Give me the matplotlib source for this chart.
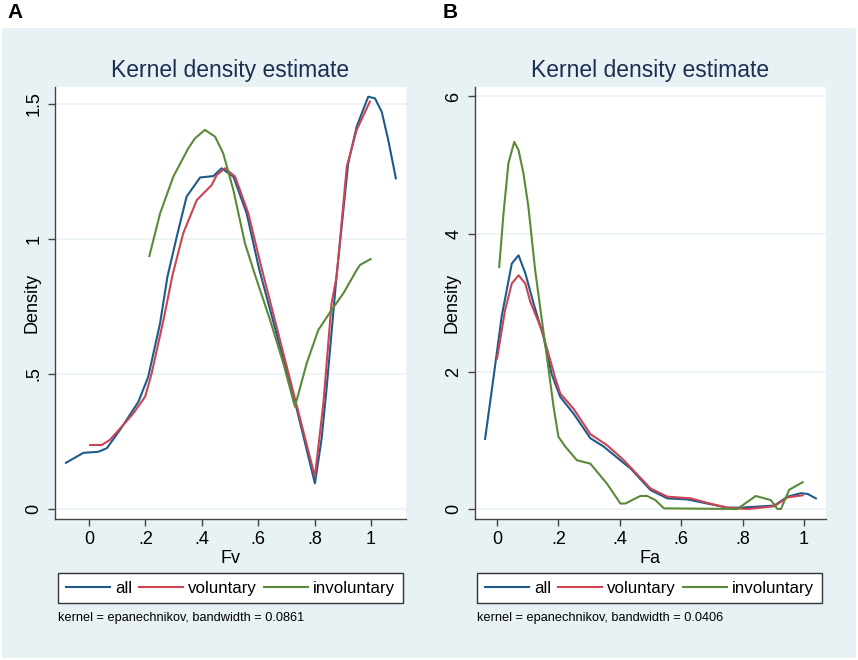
import matplotlib
matplotlib.use("Agg")
import matplotlib.pyplot as plt
from matplotlib.patches import Rectangle

plt.rcParams['font.family'] = ['Liberation Sans', 'DejaVu Sans']

# ---------------- Panel A (Fv) ----------------
a_all_x = [-0.082, -0.02, 0.033, 0.063, 0.11, 0.175, 0.21, 0.252, 0.278, 0.311, 0.346, 0.394,
           0.441, 0.47, 0.512, 0.559, 0.603, 0.736, 0.801, 0.825, 0.843, 0.878, 0.919, 0.949,
           0.99, 1.014, 1.038, 1.061, 1.088]
a_all_y = [0.171, 0.208, 0.212, 0.225, 0.293, 0.397, 0.49, 0.688, 0.86, 1.008, 1.157, 1.228,
           1.233, 1.262, 1.231, 1.095, 0.89, 0.373, 0.095, 0.262, 0.453, 0.866, 1.28, 1.416,
           1.527, 1.521, 1.471, 1.367, 1.225]

a_vol_x = [0.004, 0.045, 0.074, 0.116, 0.157, 0.199, 0.222, 0.264, 0.296, 0.334, 0.382, 0.417,
           0.435, 0.453, 0.482, 0.518, 0.565, 0.61, 0.801, 0.831, 0.86, 0.878, 0.914, 0.949, 0.996]
a_vol_y = [0.237, 0.237, 0.256, 0.305, 0.354, 0.416, 0.502, 0.7, 0.866, 1.021, 1.144, 1.181,
           1.2, 1.237, 1.262, 1.231, 1.095, 0.9, 0.12, 0.391, 0.762, 0.86, 1.268, 1.404, 1.509]

a_inv_x = [0.214, 0.252, 0.299, 0.352, 0.376, 0.411, 0.447, 0.476, 0.512, 0.553, 0.589, 0.642,
           0.689, 0.73, 0.772, 0.813, 0.86, 0.902, 0.949, 0.961, 0.999]
a_inv_y = [0.937, 1.095, 1.231, 1.336, 1.373, 1.404, 1.379, 1.317, 1.181, 0.984, 0.866, 0.7,
           0.54, 0.379, 0.54, 0.663, 0.737, 0.799, 0.885, 0.904, 0.926]

# ---------------- Panel B (Fa) ----------------
b_all_x = [-0.039, -0.012, 0.015, 0.048, 0.07, 0.092, 0.119, 0.151, 0.178, 0.206, 0.249, 0.304,
           0.347, 0.407, 0.435, 0.5, 0.555, 0.62, 0.685, 0.75, 0.794, 0.903, 0.947, 0.99, 1.012, 1.039]
b_all_y = [1.02, 1.9, 2.8, 3.57, 3.69, 3.43, 2.99, 2.51, 1.96, 1.63, 1.39, 1.03,
           0.91, 0.69, 0.59, 0.276, 0.155, 0.14, 0.08, 0.02, 0.02, 0.05, 0.18, 0.23, 0.22, 0.155]

b_vol_x = [0.0, 0.026, 0.048, 0.07, 0.092, 0.108, 0.146, 0.19, 0.206, 0.249, 0.304, 0.358,
           0.413, 0.5, 0.555, 0.631, 0.685, 0.75, 0.816, 0.903, 0.947, 0.996]
b_vol_y = [2.19, 2.89, 3.28, 3.40, 3.28, 3.02, 2.6, 1.9, 1.68, 1.46, 1.09, 0.93,
           0.71, 0.30, 0.18, 0.155, 0.09, 0.02, 0.0, 0.04, 0.17, 0.2]

b_inv_x = [0.007, 0.021, 0.037, 0.056, 0.07, 0.086, 0.102, 0.124, 0.146, 0.168, 0.184, 0.2,
           0.222, 0.26, 0.304, 0.358, 0.402, 0.418, 0.467, 0.489, 0.516, 0.544, 0.783, 0.843,
           0.892, 0.914, 0.925, 0.952, 0.996]
b_inv_y = [3.52, 4.3, 5.03, 5.34, 5.22, 4.88, 4.4, 3.48, 2.75, 2.03, 1.49, 1.05,
           0.91, 0.71, 0.66, 0.37, 0.08, 0.08, 0.19, 0.19, 0.13, 0.01, 0.0, 0.19,
           0.13, 0.0, 0.0, 0.28, 0.39]

series_names = ["all", "voluntary", "involuntary"]
a_xticks = [0, 0.2, 0.4, 0.6, 0.8, 1.0]
a_xticklabels = ["0", ".2", ".4", ".6", ".8", "1"]
a_yticks = [0, 0.5, 1.0, 1.5]
a_yticklabels = ["0", ".5", "1", "1.5"]
b_xticks = [0, 0.2, 0.4, 0.6, 0.8, 1.0]
b_xticklabels = ["0", ".2", ".4", ".6", ".8", "1"]
b_yticks = [0, 2, 4, 6]
b_yticklabels = ["0", "2", "4", "6"]

COLORS = ["#1f5b8a", "#cc4453", "#5a8a38"]
BG = "#e8f1f3"
GRID = "#eaf2f3"
TITLE_C = "#1b2f52"
W, H = 858, 660

fig = plt.figure(figsize=(8.58, 6.6), dpi=100)
fig.patch.set_facecolor("white")

# panel backgrounds
fig.patches.append(Rectangle((2 / W, 2 / H), 427 / W, 630 / H, transform=fig.transFigure,
                             facecolor=BG, edgecolor="none", zorder=-10))
fig.patches.append(Rectangle((429 / W, 2 / H), 427 / W, 630 / H, transform=fig.transFigure,
                             facecolor=BG, edgecolor="none", zorder=-10))


def panel(left_px, xs, ys, xlim, ylim, xticks, xtl, yticks, ytl, xlabel, note, legend_cx,
          note_x, letter, letter_x):
    ax = fig.add_axes([left_px / W, 1 - 519 / H, 351 / W, 432 / H])
    ax.set_facecolor("white")
    for i, (x, y) in enumerate(zip(xs, ys)):
        ax.plot(x, y, color=COLORS[i], lw=1.5, label=series_names[i], zorder=3)
    ax.set_xlim(*xlim)
    ax.set_ylim(*ylim)
    ax.set_xticks(xticks)
    ax.set_xticklabels(xtl, fontsize=13)
    ax.set_yticks(yticks)
    ax.set_yticklabels(ytl, fontsize=13, rotation=90, va="center")
    for s in ["top", "right"]:
        ax.spines[s].set_visible(False)
    for s in ["left", "bottom"]:
        ax.spines[s].set_color("#444444")
        ax.spines[s].set_linewidth(1.0)
    ax.tick_params(direction="out", length=5, width=1, color="#444444", labelcolor="black", pad=4)
    ax.grid(axis="y", color=GRID, lw=1.2, zorder=0)
    ax.set_axisbelow(True)
    ax.set_xlabel(xlabel, fontsize=13, labelpad=1)
    ax.set_ylabel("Density", fontsize=13)
    ax.yaxis.set_label_coords(-14 / 351, 0.5)
    ax.set_title("Kernel density estimate", fontsize=16.5, color=TITLE_C, pad=7)
    leg = ax.legend(loc="upper center", bbox_to_anchor=(legend_cx / W, 1 - 573 / H),
                    bbox_transform=fig.transFigure, ncol=3, fontsize=12.2, frameon=True,
                    fancybox=False, edgecolor="#333333", framealpha=1, handlelength=2.6,
                    columnspacing=0.4, handletextpad=0.3, borderpad=0.45, borderaxespad=0)
    leg.get_frame().set_linewidth(1.0)
    fig.text(note_x / W, 1 - 618 / H, note, fontsize=9.2, va="center", ha="left")
    fig.text(letter_x / W, 1 - 12 / H, letter, fontsize=15, fontweight="bold", va="center", ha="left")
    return ax


panel(55, [a_all_x, a_vol_x, a_inv_x], [a_all_y, a_vol_y, a_inv_y],
      (-0.1206, 1.124), (-0.037, 1.563), a_xticks, a_xticklabels, a_yticks, a_yticklabels,
      "Fv", "kernel = epanechnikov, bandwidth = 0.0861", 230.5, 58, "A", 7)
panel(475, [b_all_x, b_vol_x, b_inv_x], [b_all_y, b_vol_y, b_inv_y],
      (-0.0719, 1.072), (-0.145, 6.138), b_xticks, b_xticklabels, b_yticks, b_yticklabels,
      "Fa", "kernel = epanechnikov, bandwidth = 0.0406", 649.5, 477, "B", 443)

fig.savefig("out.png", dpi=100, facecolor="white")
